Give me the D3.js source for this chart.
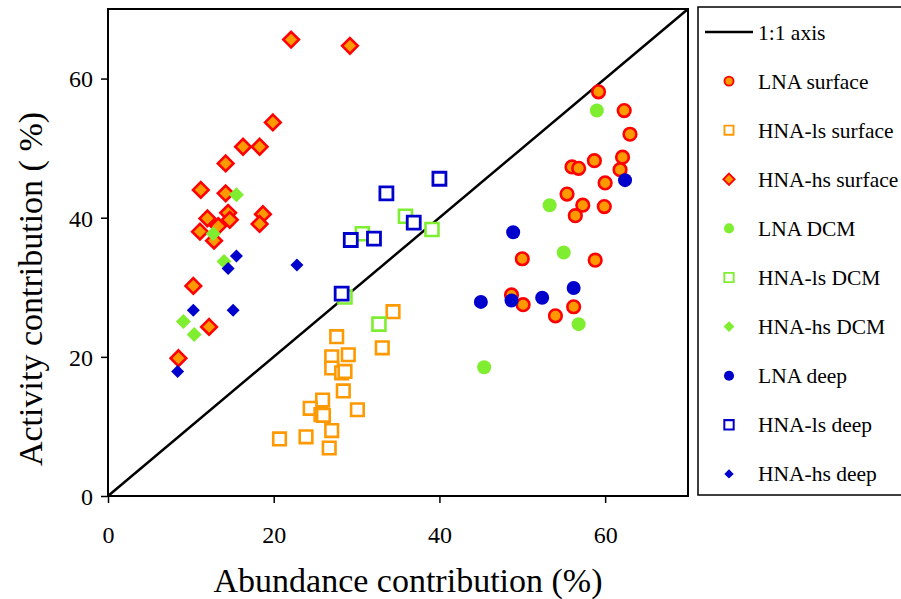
<!DOCTYPE html>
<html><head><meta charset="utf-8">
<script src="https://cdn.jsdelivr.net/npm/d3@7"></script>
<style>body{margin:0;background:#fff}svg{display:block}text{font-family:"Liberation Serif","Times New Roman",serif;fill:#000}</style>
</head><body><svg id="c" width="901" height="599"></svg>
<script>
// ---- data: [abundance %, activity %] ----
const lnaSurface = [[59.2,58.1],[62.3,55.4],[63.0,52.0],[62.1,48.7],[58.7,48.2],[56.0,47.3],[56.8,47.1],[61.8,46.9],[60.0,45.0],[55.4,43.4],[57.3,41.8],[59.9,41.6],[56.4,40.3],[50.0,34.1],[58.8,33.9],[48.7,28.9],[50.1,27.5],[54.0,25.9],[56.2,27.2]];
const hnaLsSurface = [[34.4,26.5],[27.6,22.9],[29.0,20.3],[27.0,20.0],[27.0,18.4],[28.2,17.7],[28.6,17.9],[33.1,21.3],[28.4,15.1],[25.9,13.8],[24.4,12.6],[25.7,11.7],[26.0,11.6],[30.1,12.4],[27.0,9.4],[23.9,8.5],[20.7,8.2],[26.7,6.9]];
const hnaHsSurface = [[22.1,65.6],[29.2,64.7],[19.9,53.7],[16.3,50.2],[18.3,50.2],[14.2,47.8],[11.2,44.0],[14.2,43.5],[12.0,39.9],[14.5,40.7],[14.7,39.7],[13.3,38.8],[18.7,40.5],[18.3,39.1],[11.1,38.0],[12.8,36.7],[10.3,30.2],[12.2,24.3],[8.5,19.8]];
const lnaDCM = [[59.0,55.4],[53.3,41.8],[55.0,35.0],[56.8,24.7],[45.4,18.5]];
const hnaLsDCM = [[35.9,40.2],[39.1,38.3],[30.7,37.7],[28.6,28.6],[32.7,24.7]];
const hnaHsDCM = [[15.5,43.3],[12.7,37.7],[14.0,33.7],[9.1,25.1],[10.4,23.2]];
const lnaDeep = [[62.4,45.4],[48.9,37.9],[56.2,29.9],[48.7,28.1],[52.4,28.5],[45.0,27.9]];
const hnaLsDeep = [[40.0,45.6],[33.6,43.5],[36.9,39.3],[29.3,36.8],[32.1,37.0],[28.2,29.1]];
const hnaHsDeep = [[15.5,34.5],[14.5,32.7],[22.8,33.2],[10.3,26.7],[15.1,26.7],[8.4,17.9]];
const seriesNames = ["LNA surface","HNA-ls surface","HNA-hs surface","LNA DCM","HNA-ls DCM","HNA-hs DCM","LNA deep","HNA-ls deep","HNA-hs deep"];
const xTicks = [0,20,40,60];
const yTicks = [0,20,40,60];
const xTitle = "Abundance contribution (%)";
const yTitle = "Activity contribution ( %)";
const lineLabel = "1:1 axis";

// ---- styles ----
const ORANGE="#FF9900", RED="#FF0000", GREEN="#80EE30", BLUE="#0000CC";
const series = [
 {name:seriesNames[0], data:lnaSurface, shape:"circle", size:6.3, fill:ORANGE, stroke:RED, sw:2.6},
 {name:seriesNames[1], data:hnaLsSurface, shape:"square", size:6.3, fill:"#fff", stroke:ORANGE, sw:2.6},
 {name:seriesNames[2], data:hnaHsSurface, shape:"diamond", size:7.8, fill:ORANGE, stroke:RED, sw:2.6},
 {name:seriesNames[3], data:lnaDCM, shape:"circle", size:7, fill:GREEN, stroke:"none", sw:0},
 {name:seriesNames[4], data:hnaLsDCM, shape:"square", size:6.5, fill:"#fff", stroke:GREEN, sw:2.6},
 {name:seriesNames[5], data:hnaHsDCM, shape:"diamond", size:7.5, fill:GREEN, stroke:"none", sw:0},
 {name:seriesNames[6], data:lnaDeep, shape:"circle", size:7, fill:BLUE, stroke:"none", sw:0},
 {name:seriesNames[7], data:hnaLsDeep, shape:"square", size:6.5, fill:"#fff", stroke:BLUE, sw:2.8},
 {name:seriesNames[8], data:hnaHsDeep, shape:"diamond", size:6.5, fill:BLUE, stroke:"none", sw:0}
];

const svg = d3.select("#c");
const L=108, R=688, T=9, B=496;
const x = d3.scaleLinear().domain([0,70]).range([L,R]);
const y = d3.scaleLinear().domain([0,70]).range([B,T]);

function shapePath(shape, s){
  if(shape==="square") return `M${-s},${-s}H${s}V${s}H${-s}Z`;
  if(shape==="diamond") return `M0,${-s}L${s},0L0,${s}L${-s},0Z`;
  return null;
}
function drawMarker(g, d, cx, cy, scale){
  const s = d.size*scale;
  if(d.shape==="circle"){
    g.append("circle").attr("cx",cx).attr("cy",cy).attr("r",s)
     .attr("fill",d.fill).attr("stroke",d.stroke).attr("stroke-width",d.sw*scale);
  } else {
    g.append("path").attr("d",shapePath(d.shape,s)).attr("transform",`translate(${cx},${cy})`)
     .attr("fill",d.fill).attr("stroke",d.stroke).attr("stroke-width",d.sw*scale);
  }
}

// axes
const xAxis = d3.axisBottom(x).tickValues(xTicks).tickSize(7).tickPadding(17).tickFormat(d3.format("d"));
const yAxis = d3.axisLeft(y).tickValues(yTicks).tickSize(7).tickPadding(8).tickFormat(d3.format("d"));
const gx = svg.append("g").attr("transform",`translate(0,${B})`).call(xAxis);
const gy = svg.append("g").attr("transform",`translate(${L},0)`).call(yAxis);
[gx,gy].forEach(g=>{
  g.select(".domain").remove();
  g.selectAll(".tick line").attr("stroke","#000").attr("stroke-width",1.5);
  g.selectAll(".tick text").attr("font-size",24).attr("font-family","Liberation Serif").attr("fill","#000");
});
gx.selectAll(".tick text").attr("dy","0.95em");
gy.selectAll(".tick text").attr("dy","0.35em");

// frame
svg.append("rect").attr("x",L).attr("y",T).attr("width",R-L).attr("height",B-T)
  .attr("fill","none").attr("stroke","#000").attr("stroke-width",2);

// 1:1 line
svg.append("line").attr("x1",x(0)).attr("y1",y(0)).attr("x2",x(70)).attr("y2",y(70))
  .attr("stroke","#000").attr("stroke-width",2.5);

// points
series.forEach(sr=>{
  const g = svg.append("g");
  sr.data.forEach(p=>drawMarker(g, sr, x(p[0]), y(p[1]), 1));
});

// titles
svg.append("text").attr("x",408).attr("y",592).attr("text-anchor","middle")
  .attr("font-size",34).text(xTitle);
svg.append("text").attr("transform",`translate(42,289) rotate(-90)`).attr("text-anchor","middle")
  .attr("font-size",34).text(yTitle);

// legend
const lg = svg.append("g");
lg.append("rect").attr("x",698).attr("y",7).attr("width",210).attr("height",488)
  .attr("fill","#fff").attr("stroke","#000").attr("stroke-width",1.5);
const ly0 = 32, ldy = 49.1;
lg.append("line").attr("x1",705).attr("x2",753).attr("y1",ly0).attr("y2",ly0).attr("stroke","#000").attr("stroke-width",2.5);
lg.append("text").attr("x",758).attr("y",ly0).attr("dy","0.35em").attr("font-size",21.5).text(lineLabel);
series.forEach((sr,i)=>{
  const yy = ly0 + ldy*(i+1);
  drawMarker(lg, sr, 729, yy, 0.72);
  lg.append("text").attr("x",758).attr("y",yy).attr("dy","0.35em").attr("font-size",21.5).text(sr.name);
});
</script></body></html>
